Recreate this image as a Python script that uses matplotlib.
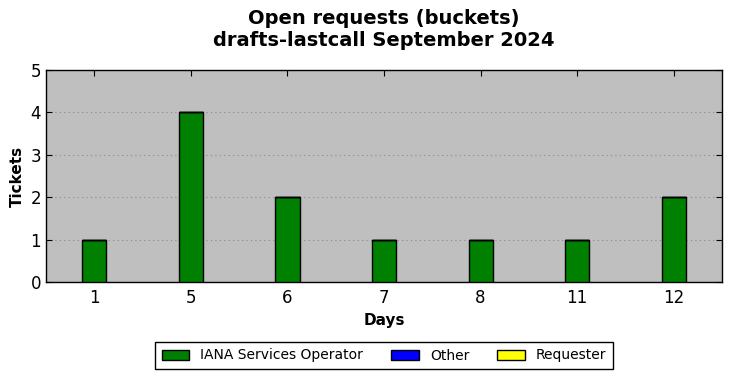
import matplotlib
matplotlib.use("Agg")
import matplotlib.pyplot as plt
import numpy as np

days = ["1", "5", "6", "7", "8", "11", "12"]
iana = [1, 4, 2, 1, 1, 1, 2]
other = [0, 0, 0, 0, 0, 0, 0]
requester = [0, 0, 0, 0, 0, 0, 0]

fig = plt.figure(figsize=(7.32, 3.78), dpi=100)
ax = fig.add_axes([46/732, 1-282/378, 676/732, 212/378])
ax.set_facecolor("#bfbfbf")
x = np.arange(len(days))
w = 0.25
b1 = ax.bar(x, iana, w, color="green", edgecolor="black", linewidth=1, label="IANA Services Operator", zorder=3)
b2 = ax.bar(x, other, w, bottom=iana, color="blue", edgecolor="black", linewidth=1, label="Other", zorder=3)
bottom2 = [a + b for a, b in zip(iana, other)]
b3 = ax.bar(x, requester, w, bottom=bottom2, color="yellow", edgecolor="black", linewidth=1, label="Requester", zorder=3)

ax.set_xlim(-0.5, 6.5)
ax.set_ylim(0, 5)
ax.set_xticks(x)
ax.set_xticklabels(days)
ax.set_yticks(range(0, 6))
ax.tick_params(direction="in", top=True, right=True, labelsize=12, length=4)
ax.tick_params(axis="x", pad=5)
ax.yaxis.grid(True, linestyle=(0, (1, 3)), color="#888888", linewidth=0.8, zorder=0)
ax.set_axisbelow(True)
for s in ax.spines.values():
    s.set_linewidth(1)
ax.set_xlabel("Days", fontsize=11, fontweight="bold", labelpad=4)
ax.set_ylabel("Tickets", fontsize=11, fontweight="bold")
ax.set_title("Open requests (buckets)\ndrafts-lastcall September 2024", fontsize=14, fontweight="bold", pad=17)
leg = fig.legend(handles=[b1, b2, b3], loc="center", bbox_to_anchor=(384/732, 1-355.5/378), ncol=3, fontsize=10,
                 fancybox=False, edgecolor="black", framealpha=1, handlelength=2, columnspacing=2.0, borderpad=0.45)
leg.get_frame().set_linewidth(1)
fig.savefig("out.png", dpi=100)
